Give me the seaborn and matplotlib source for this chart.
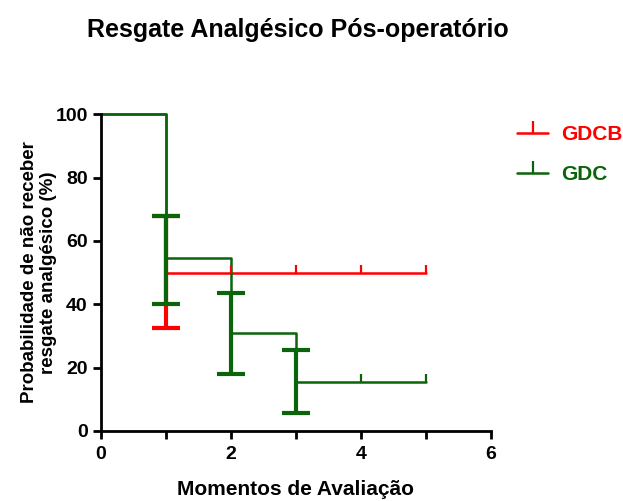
import matplotlib
matplotlib.use('Agg')
import matplotlib.pyplot as plt
import pandas as pd
import seaborn as sns
from matplotlib.lines import Line2D
from matplotlib.ticker import MultipleLocator

# survival steps
gdcb_x = [0, 1, 5]
gdcb_y = [100, 50, 50]
gdc_x = [0, 1, 2, 3, 5]
gdc_y = [100, 54.5, 31, 15.5, 15.5]

# error bars (upper / lower)
gdcb_err_x = [1]
gdcb_err_hi = [68]
gdcb_err_lo = [32.5]
gdc_err_x = [1, 2, 3]
gdc_err_hi = [68, 43.5, 25.5]
gdc_err_lo = [40, 18, 5.5]

# censored marks
gdcb_cens_x = [2, 3, 4, 5]
gdcb_cens_y = [50, 50, 50, 50]
gdc_cens_x = [4, 5]
gdc_cens_y = [15.5, 15.5]

groups = ['GDCB', 'GDC']
colors = {'GDCB': '#ff0000', 'GDC': '#0a640a'}

df = pd.concat([
    pd.DataFrame({'x': gdcb_x, 'y': gdcb_y, 'grupo': 'GDCB'}),
    pd.DataFrame({'x': gdc_x, 'y': gdc_y, 'grupo': 'GDC'}),
])

sns.set_style('ticks')
plt.rcParams['font.family'] = ['Liberation Sans', 'DejaVu Sans']
plt.rcParams['font.weight'] = 'bold'
plt.rcParams['text.color'] = 'black'
plt.rcParams['axes.labelcolor'] = 'black'
plt.rcParams['xtick.color'] = 'black'
plt.rcParams['ytick.color'] = 'black'

fig = plt.figure(figsize=(6.23, 5.01), dpi=100)
ax = fig.add_axes([0.162, 0.14, 0.626, 0.632])

sns.lineplot(data=df, x='x', y='y', hue='grupo', palette=colors, hue_order=groups,
             estimator=None, sort=False, drawstyle='steps-post', linewidth=1.8,
             legend=False, ax=ax, clip_on=False)

err = {'GDCB': (gdcb_err_x, gdcb_err_hi, gdcb_err_lo), 'GDC': (gdc_err_x, gdc_err_hi, gdc_err_lo)}
cens = {'GDCB': (gdcb_cens_x, gdcb_cens_y), 'GDC': (gdc_cens_x, gdc_cens_y)}
for g in groups:
    ex, hi, lo = err[g]
    ax.vlines(ex, lo, hi, color=colors[g], linewidth=3, zorder=3)
    ax.hlines(hi, [v - 0.21 for v in ex], [v + 0.21 for v in ex], color=colors[g], linewidth=3, zorder=3)
    ax.hlines(lo, [v - 0.21 for v in ex], [v + 0.21 for v in ex], color=colors[g], linewidth=3, zorder=3)
    cx, cy = cens[g]
    ax.plot(cx, cy, linestyle='none', marker=2, markersize=6, markeredgewidth=1.6,
            color=colors[g], zorder=4)

ax.set_xlim(0, 6)
ax.set_ylim(0, 100)
ax.xaxis.set_major_locator(MultipleLocator(2))
ax.xaxis.set_minor_locator(MultipleLocator(1))
ax.yaxis.set_major_locator(MultipleLocator(20))
ax.tick_params(which='both', direction='out', width=2, color='black', labelsize=14,
               labelcolor='black')
ax.tick_params(which='major', length=6)
ax.tick_params(which='minor', length=6)
ax.tick_params(axis='x', pad=5)
for s in ['left', 'bottom']:
    ax.spines[s].set_linewidth(2)
    ax.spines[s].set_color('black')
sns.despine(ax=ax)
for lab in ax.get_xticklabels() + ax.get_yticklabels():
    lab.set_fontweight('bold')

ax.set_xlabel('Momentos de Avaliação', fontsize=15, fontweight='bold', labelpad=12)
ax.set_ylabel('Probabilidade de não receber\nresgate analgésico (%)', fontsize=13.5,
              fontweight='bold', linespacing=1.1, labelpad=-1)
fig.suptitle('Resgate Analgésico Pós-operatório', x=0.478, y=0.94, va='center',
             fontsize=18, fontweight='bold')

handles = [Line2D([0], [0], color=colors[g], linewidth=1.8, marker=2, markersize=9,
                  markeredgewidth=1.6) for g in groups]
leg = fig.legend(handles, groups, loc='upper left', bbox_to_anchor=(0.80, 0.787),
                 frameon=False, fontsize=15, handlelength=1.5, handletextpad=0.6,
                 labelspacing=1.0)
for t, g in zip(leg.get_texts(), groups):
    t.set_color(colors[g])
    t.set_fontweight('bold')

fig.savefig('out.png', dpi=100)
